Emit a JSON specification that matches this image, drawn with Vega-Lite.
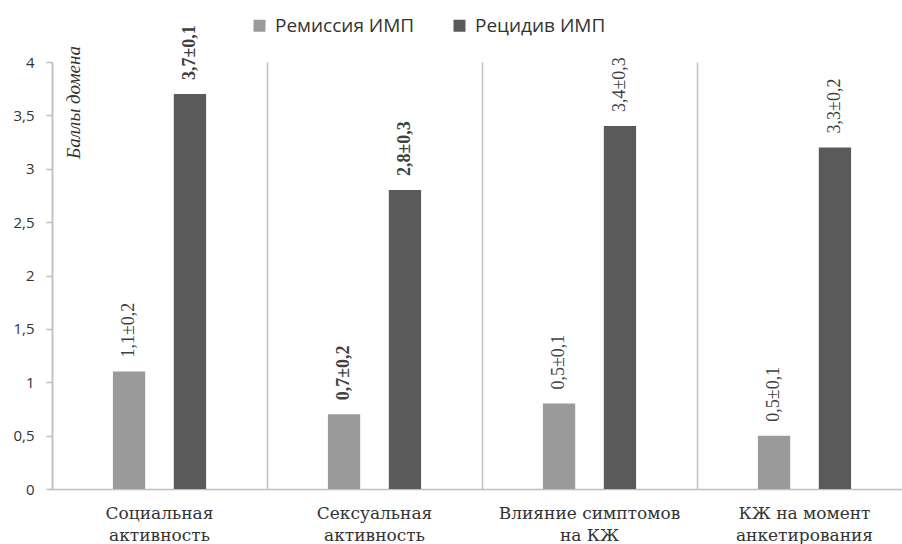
{
  "$schema": "https://vega.github.io/schema/vega-lite/v6.json",
  "autosize": "none",
  "width": 850,
  "height": 427,
  "padding": {"left": 52, "top": 62, "right": 0, "bottom": 55},
  "background": "white",
  "config": {"view": {"stroke": null}},
  "data": {
    "values": [
      {"category": "Социальная активность", "group": "Ремиссия ИМП", "value": 1.1, "label": "1,1±0,2"},
      {"category": "Социальная активность", "group": "Рецидив ИМП", "value": 3.7, "label": "3,7±0,1"},
      {"category": "Сексуальная активность", "group": "Ремиссия ИМП", "value": 0.7, "label": "0,7±0,2"},
      {"category": "Сексуальная активность", "group": "Рецидив ИМП", "value": 2.8, "label": "2,8±0,3"},
      {"category": "Влияние симптомов на КЖ", "group": "Ремиссия ИМП", "value": 0.8, "label": "0,5±0,1"},
      {"category": "Влияние симптомов на КЖ", "group": "Рецидив ИМП", "value": 3.4, "label": "3,4±0,3"},
      {"category": "КЖ на момент анкетирования", "group": "Ремиссия ИМП", "value": 0.5, "label": "0,5±0,1"},
      {"category": "КЖ на момент анкетирования", "group": "Рецидив ИМП", "value": 3.2, "label": "3,3±0,2"}
    ]
  },
  "encoding": {
    "x": {
      "field": "category",
      "type": "nominal",
      "sort": null,
      "scale": {"range": [0, 860], "paddingInner": 0, "paddingOuter": 0},
      "axis": {
        "title": null,
        "labelAngle": 0,
        "ticks": false,
        "domainColor": "#bfbfbf",
        "domainWidth": 1.5,
        "grid": true,
        "gridColor": "#bfbfbf",
        "gridWidth": 1.5,
        "bandPosition": 0,
        "labelFont": "DejaVu Serif",
        "labelFontSize": 17,
        "labelColor": "#333333",
        "labelPadding": 24,
        "labelLineHeight": 22,
        "labelBaseline": "middle",
        "labelLimit": 400,
        "labelOverlap": false,
        "labelExpr": "datum.value == 'Социальная активность' ? ['Социальная', 'активность'] : datum.value == 'Сексуальная активность' ? ['Сексуальная', 'активность'] : datum.value == 'Влияние симптомов на КЖ' ? ['Влияние симптомов', 'на КЖ'] : ['КЖ на момент', 'анкетирования']"
      }
    },
    "xOffset": {
      "field": "group",
      "type": "nominal",
      "sort": ["Ремиссия ИМП", "Рецидив ИМП"],
      "scale": {"paddingInner": 0.47, "paddingOuter": 1.19}
    },
    "y": {
      "field": "value",
      "type": "quantitative",
      "scale": {"domain": [0, 4], "nice": false},
      "axis": {
        "title": "Баллы домена",
        "titleFont": "Liberation Serif",
        "titleFontStyle": "italic",
        "titleFontWeight": "normal",
        "titleFontSize": 19,
        "titleColor": "#333333",
        "titleAngle": 270,
        "titleAlign": "center",
        "titleBaseline": "middle",
        "titleX": 21,
        "titleY": 40,
        "values": [0, 0.5, 1, 1.5, 2, 2.5, 3, 3.5, 4],
        "labelExpr": "replace(format(datum.value, ''), '.', ',')",
        "labelFont": "Open Sans",
        "labelFontSize": 15,
        "labelColor": "#333333",
        "labelPadding": 12,
        "tickColor": "#bfbfbf",
        "tickSize": 6,
        "tickWidth": 1.5,
        "domainColor": "#bfbfbf",
        "domainWidth": 1.5,
        "grid": false
      }
    }
  },
  "layer": [
    {
      "mark": {"type": "bar"},
      "encoding": {
        "color": {
          "field": "group",
          "type": "nominal",
          "sort": ["Ремиссия ИМП", "Рецидив ИМП"],
          "scale": {"domain": ["Ремиссия ИМП", "Рецидив ИМП"], "range": ["#9a9a9a", "#5a5a5a"]},
          "legend": {
            "title": null,
            "orient": "none",
            "direction": "horizontal",
            "legendX": 198,
            "legendY": -46,
            "symbolType": "square",
            "symbolSize": 144,
            "symbolStrokeWidth": 0,
            "labelFont": "Open Sans",
            "labelFontSize": 19,
            "labelColor": "#333333",
            "labelOffset": 6,
            "columnPadding": 35
          }
        }
      }
    },
    {
      "transform": [{"filter": "!(datum.category == 'Сексуальная активность' || (datum.category == 'Социальная активность' && datum.group == 'Рецидив ИМП'))"}],
      "mark": {"type": "text", "angle": 270, "align": "left", "baseline": "middle", "dx": 14, "font": "Liberation Serif", "fontSize": 18, "color": "#404040"},
      "encoding": {"text": {"field": "label"}}
    },
    {
      "transform": [{"filter": "datum.category == 'Сексуальная активность' || (datum.category == 'Социальная активность' && datum.group == 'Рецидив ИМП')"}],
      "mark": {"type": "text", "angle": 270, "align": "left", "baseline": "middle", "dx": 14, "font": "Liberation Serif", "fontSize": 18, "fontWeight": "bold", "color": "#404040"},
      "encoding": {"text": {"field": "label"}}
    }
  ]
}
